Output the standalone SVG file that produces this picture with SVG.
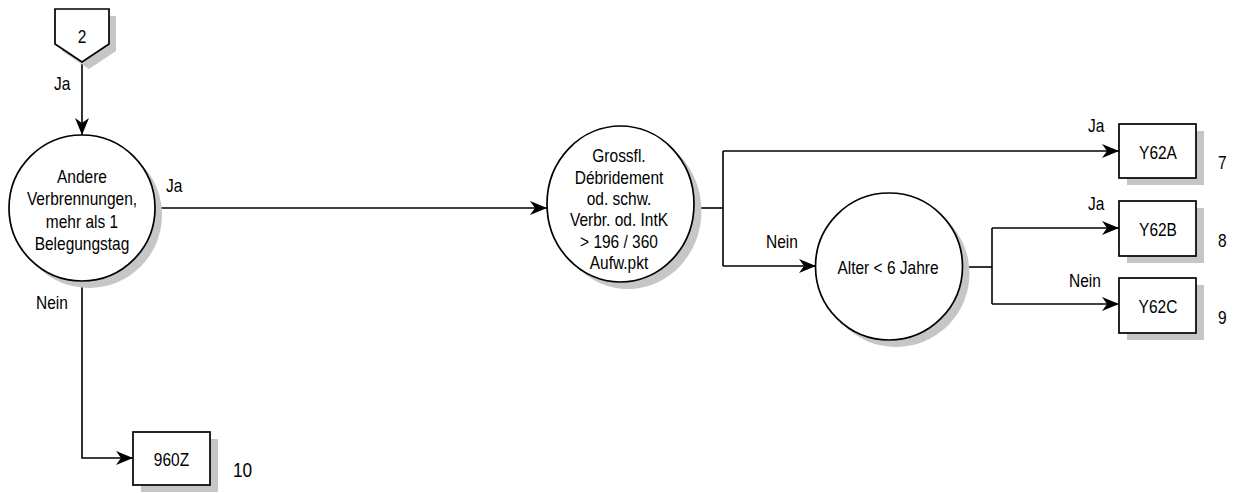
<svg xmlns="http://www.w3.org/2000/svg" width="1241" height="493" viewBox="0 0 1241 493">
<style>
text { font-family: "Liberation Sans", Arial, sans-serif; font-size: 17.5px; fill: #000; }
.m { text-anchor: middle; transform-box: fill-box; transform-origin: center; transform: scaleX(0.885); }
.s { text-anchor: start; transform-box: fill-box; transform-origin: left; transform: scaleX(0.885); }
.big { font-size: 19.5px; }
.shape { fill: #fff; stroke: #000; stroke-width: 1.7; }
.shadow { fill: #c6c6c6; stroke: none; }
.conn path { fill: none; stroke: #000; stroke-width: 1.6; }
</style>
<defs>
<marker id="arr" viewBox="-18 -8 19 16" refX="0" refY="0" markerWidth="19" markerHeight="16" orient="auto" markerUnits="userSpaceOnUse">
<path d="M0,0 L-17,-7 L-12,0 L-17,7 Z" fill="#000"/>
</marker>
</defs>
<rect width="1241" height="493" fill="#fff"/>

<g id="conn" class="conn">
<path d="M82,62 V135" marker-end="url(#arr)"/>
<path d="M155,208 H547" marker-end="url(#arr)"/>
<path d="M82,281 V458 H133" marker-end="url(#arr)"/>
<path d="M694,208 H723"/>
<path d="M723,151 V266"/>
<path d="M723,151 H1119" marker-end="url(#arr)"/>
<path d="M723,266 H816" marker-end="url(#arr)"/>
<path d="M962,267 H992"/>
<path d="M992,228 V304"/>
<path d="M992,228 H1119" marker-end="url(#arr)"/>
<path d="M992,304 H1119" marker-end="url(#arr)"/>
</g>

<g id="labels">
<text class="s" x="54" y="90">Ja</text>
<text class="s" x="166" y="192">Ja</text>
<text class="s" x="36" y="309">Nein</text>
<text class="s" x="766" y="248">Nein</text>
<text class="s" x="1088" y="132">Ja</text>
<text class="s" x="1088" y="210">Ja</text>
<text class="s" x="1069" y="287">Nein</text>
</g>

<g id="offpage2">
<polygon class="shadow" points="62,16 116,16 116,51 89,69 62,51"/>
<polygon class="shape" points="55,9 109,9 109,44 82,62 55,44"/>
<text class="m" x="82" y="43">2</text>
</g>

<g id="dec1">
<circle class="shadow" cx="89" cy="215" r="73"/>
<circle class="shape" cx="82" cy="208" r="73"/>
<text class="m" x="82" y="183">Andere</text>
<text class="m" x="82" y="205.5">Verbrennungen,</text>
<text class="m" x="82" y="228">mehr als 1</text>
<text class="m" x="82" y="250.5">Belegungstag</text>
</g>

<g id="dec2">
<ellipse class="shadow" cx="628" cy="211" rx="73.5" ry="78"/>
<ellipse class="shape" cx="620.5" cy="204" rx="73.5" ry="78"/>
<text class="m" x="619" y="162.3">Grossfl.</text>
<text class="m" x="619" y="183.7">Débridement</text>
<text class="m" x="619" y="205.1">od. schw.</text>
<text class="m" x="619" y="226.5">Verbr. od. IntK</text>
<text class="m" x="619" y="247.9">&gt; 196 / 360</text>
<text class="m" x="619" y="269.3">Aufw.pkt</text>
</g>

<g id="dec3">
<circle class="shadow" cx="896" cy="273.5" r="73.5"/>
<circle class="shape" cx="889" cy="266.5" r="73.5"/>
<text class="m" x="888" y="274">Alter &lt; 6 Jahre</text>
</g>

<g id="Y62A">
<rect class="shadow" x="1127" y="131" width="77" height="54"/>
<rect class="shape" x="1119" y="124" width="77" height="54"/>
<text class="m" x="1158" y="159.3">Y62A</text>
<text class="s" x="1218" y="169.3">7</text>
</g>

<g id="Y62B">
<rect class="shadow" x="1127" y="208" width="77" height="55"/>
<rect class="shape" x="1119" y="201" width="77" height="55"/>
<text class="m" x="1158" y="236">Y62B</text>
<text class="s" x="1218" y="246.7">8</text>
</g>

<g id="Y62C">
<rect class="shadow" x="1127" y="285" width="77" height="55"/>
<rect class="shape" x="1119" y="278" width="77" height="55"/>
<text class="m" x="1158" y="312.7">Y62C</text>
<text class="s" x="1218" y="324.3">9</text>
</g>

<g id="n960Z">
<rect class="shadow" x="141" y="439" width="77" height="53"/>
<rect class="shape" x="133" y="432" width="77" height="53"/>
<text class="m" x="171.5" y="466">960Z</text>
<text class="s big" x="233" y="477">10</text>
</g>
</svg>
